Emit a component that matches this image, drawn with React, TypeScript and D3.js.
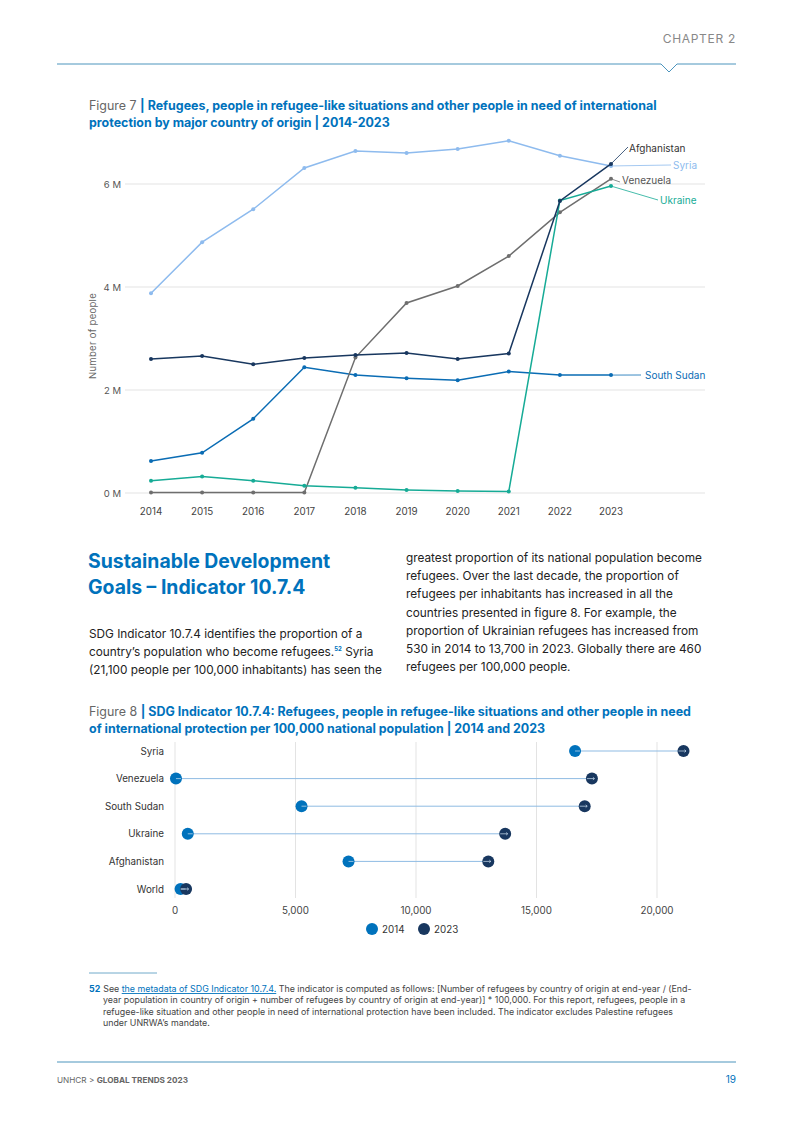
import React from 'react';
import * as d3 from 'd3';

// Figure 7 data (millions of people)
const years = [2014, 2015, 2016, 2017, 2018, 2019, 2020, 2021, 2022, 2023];
const syria = [3.88, 4.87, 5.51, 6.31, 6.64, 6.6, 6.68, 6.84, 6.55, 6.35];
const afghanistan = [2.6, 2.66, 2.5, 2.62, 2.68, 2.72, 2.6, 2.71, 5.67, 6.39];
const southSudan = [0.62, 0.78, 1.44, 2.44, 2.29, 2.23, 2.19, 2.36, 2.29, 2.29];
const venezuela = [0.01, 0.01, 0.01, 0.01, 2.63, 3.69, 4.02, 4.6, 5.45, 6.1];
const ukraine = [0.24, 0.32, 0.24, 0.14, 0.1, 0.06, 0.04, 0.03, 5.68, 5.96];
const yTicks = [0, 2, 4, 6];

// Figure 8 data (per 100,000 national population)
const countries = ['Syria', 'Venezuela', 'South Sudan', 'Ukraine', 'Afghanistan', 'World'];
const values2014 = [16600, 40, 5250, 530, 7200, 230];
const values2023 = [21100, 17300, 17000, 13700, 13000, 460];
const xTicks = [0, 5000, 10000, 15000, 20000];

const C_SYRIA = '#8ebbee';
const C_AFG = '#18375f';
const C_SSD = '#0a6cb4';
const C_VEN = '#6e6e6e';
const C_UKR = '#16ab96';
const BLUE = '#0072bc';
const FONT = 'Inter, "Open Sans", sans-serif';

const series = [
  { name: 'Syria', values: syria, color: C_SYRIA },
  { name: 'South Sudan', values: southSudan, color: C_SSD },
  { name: 'Venezuela', values: venezuela, color: C_VEN },
  { name: 'Ukraine', values: ukraine, color: C_UKR },
  { name: 'Afghanistan', values: afghanistan, color: C_AFG },
];

function LineChart() {
  const x = d3.scaleLinear().domain([2014, 2023]).range([151, 611]);
  const y = d3.scaleLinear().domain([0, 6]).range([493, 184]);
  const line = d3.line<number>().x((_, i) => x(years[i])).y(d => y(d));
  const last = (v: number[]) => [x(2023), y(v[v.length - 1])];

  const labels = [
    { name: 'Afghanistan', values: afghanistan, color: C_AFG, text: '#333', to: [628, 147], tx: 629, ty: 152 },
    { name: 'Syria', values: syria, color: C_SYRIA, text: C_SYRIA, to: [671, 165], tx: 673, ty: 169 },
    { name: 'Venezuela', values: venezuela, color: C_VEN, text: '#555', to: [620, 182], tx: 622, ty: 184 },
    { name: 'Ukraine', values: ukraine, color: C_UKR, text: C_UKR, to: [658, 200], tx: 660, ty: 204 },
    { name: 'South Sudan', values: southSudan, color: C_SSD, text: C_SSD, to: [641, 375], tx: 645, ty: 379 },
  ];

  return (
    <g fontFamily={FONT}>
      {yTicks.map(t => (
        <g key={t}>
          <line x1={125} x2={705} y1={y(t)} y2={y(t)} stroke="#e3e3e3" strokeWidth={1} />
          <text x={121} y={y(t) + 3.5} textAnchor="end" fontSize={9.5} fill="#555">{t} M</text>
        </g>
      ))}
      {years.map(yr => (
        <text key={yr} x={x(yr)} y={515} textAnchor="middle" fontSize={9.8} fill="#444">{yr}</text>
      ))}
      <text transform="translate(96,336) rotate(-90)" textAnchor="middle" fontSize={9.5} fill="#666" letterSpacing={0.3}>
        Number of people
      </text>
      {labels.map(l => {
        const [px, py] = last(l.values);
        return (
          <g key={l.name}>
            <line x1={px} y1={py} x2={l.to[0]} y2={l.to[1]} stroke={l.color} strokeWidth={0.8} />
            <text x={l.tx} y={l.ty} fontSize={10} fill={l.text}>{l.name}</text>
          </g>
        );
      })}
      {series.map(s => (
        <g key={s.name}>
          <path d={line(s.values) || ''} fill="none" stroke={s.color} strokeWidth={1.5} />
          {s.values.map((v, i) => (
            <circle key={i} cx={x(years[i])} cy={y(v)} r={2} fill={s.color} />
          ))}
        </g>
      ))}
    </g>
  );
}

function Dumbbell() {
  const x = d3.scaleLinear().domain([0, 20000]).range([175, 657]);
  const y = d3.scalePoint<string>().domain(countries).range([751, 889]);
  return (
    <g fontFamily={FONT}>
      {xTicks.map(t => (
        <g key={t}>
          <line x1={x(t)} x2={x(t)} y1={742} y2={898} stroke="#e3e3e3" strokeWidth={1} />
          <text x={x(t)} y={914} textAnchor="middle" fontSize={9.8} fill="#444">{d3.format(',')(t)}</text>
        </g>
      ))}
      {countries.map((c, i) => {
        const cy = y(c) as number;
        const x0 = x(values2014[i]);
        const x1 = x(values2023[i]);
        return (
          <g key={c}>
            <text x={164} y={cy + 3.5} textAnchor="end" fontSize={9.8} fill="#333">{c}</text>
            <line x1={x0} x2={x1} y1={cy} y2={cy} stroke="#8fbbe3" strokeWidth={1} />
            <circle cx={x0} cy={cy} r={6} fill={BLUE} />
            <circle cx={x1} cy={cy} r={6} fill={C_AFG} />
            <line x1={x0} x2={x0 + 5} y1={cy} y2={cy} stroke="#cfe2f3" strokeWidth={0.7} />
            <path d={`M${x1 - 5},${cy}H${x1 + 2.5}M${x1 + 1},${cy - 1.3}L${x1 + 2.5},${cy}L${x1 + 1},${cy + 1.3}`} stroke="#cfe2f3" strokeWidth={0.7} fill="none" />
          </g>
        );
      })}
      <circle cx={372} cy={929} r={6} fill={BLUE} />
      <text x={382} y={933} fontSize={9.8} fill="#333">2014</text>
      <circle cx={424} cy={929} r={6} fill={C_AFG} />
      <text x={434} y={933} fontSize={9.8} fill="#333">2023</text>
    </g>
  );
}

const leftPara = [
  'SDG Indicator 10.7.4 identifies the proportion of a',
  'country\u2019s population who become refugees.',
  '(21,100 people per 100,000 inhabitants) has seen the',
];
const rightPara = [
  'greatest proportion of its national population become',
  'refugees. Over the last decade, the proportion of',
  'refugees per inhabitants has increased in all the',
  'countries presented in figure 8. For example, the',
  'proportion of Ukrainian refugees has increased from',
  '530 in 2014 to 13,700 in 2023. Globally there are 460',
  'refugees per 100,000 people.',
];
const footLines = [
  'year population in country of origin + number of refugees by country of origin at end-year)] * 100,000. For this report, refugees, people in a',
  'refugee-like situation and other people in need of international protection have been included. The indicator excludes Palestine refugees',
  'under UNRWA\u2019s mandate.',
];

export default function App() {
  return (
    <svg width={793} height={1122} style={{ position: 'absolute', left: 0, top: 0, background: '#fff' }} fontFamily={FONT}>
      {/* page header */}
      <text x={736} y={43} textAnchor="end" fontSize={12} fill="#888" letterSpacing={0.7}>CHAPTER 2</text>
      <path d="M57,64H661L669,72L677,64H736" fill="none" stroke="#4d95bd" strokeWidth={1} />

      {/* Figure 7 title */}
      <text x={89} y={110} fontSize={12.45} fill={BLUE} fontWeight={700}>
        <tspan fill="#666" fontWeight={400}>Figure 7 </tspan>| Refugees, people in refugee-like situations and other people in need of international
      </text>
      <text x={89} y={127} fontSize={12.45} fill={BLUE} fontWeight={700}>protection by major country of origin | 2014-2023</text>
      <LineChart />

      {/* section text */}
      <text x={88} y={568} fontSize={19.4} fontWeight={700} fill={BLUE}>Sustainable Development</text>
      <text x={88} y={594} fontSize={19.4} fontWeight={700} fill={BLUE}>Goals – Indicator 10.7.4</text>
      {leftPara.map((l, i) => (
        <text key={i} x={89} y={638 + i * 18} fontSize={11.8} fill="#222">
          {l}
          {i === 1 && <tspan fontSize={6} dy={-5} fill={BLUE} fontWeight={700}>52</tspan>}
          {i === 1 && <tspan dy={5}> Syria</tspan>}
        </text>
      ))}
      {rightPara.map((l, i) => (
        <text key={i} x={406} y={562 + i * 18.2} fontSize={11.8} fill="#222">{l}</text>
      ))}

      {/* Figure 8 title */}
      <text x={89} y={716} fontSize={12.45} fill={BLUE} fontWeight={700}>
        <tspan fill="#666" fontWeight={400}>Figure 8 </tspan>| SDG Indicator 10.7.4: Refugees, people in refugee-like situations and other people in need
      </text>
      <text x={89} y={733} fontSize={12.45} fill={BLUE} fontWeight={700}>of international protection per 100,000 national population | 2014 and 2023</text>
      <Dumbbell />

      {/* footnote */}
      <line x1={89} x2={157} y1={973} y2={973} stroke="#4d95bd" strokeWidth={0.8} />
      <text x={89} y={992} fontSize={8.85} fill="#444">
        <tspan fontWeight={700} fill={BLUE}>52</tspan>
        <tspan dx={3}>See </tspan>
        <tspan fill={BLUE} textDecoration="underline">the metadata of SDG Indicator 10.7.4.</tspan>
        <tspan> The indicator is computed as follows: [Number of refugees by country of origin at end-year / (End-</tspan>
      </text>
      {footLines.map((l, i) => (
        <text key={i} x={103} y={1003.3 + i * 11.3} fontSize={8.85} fill="#444">{l}</text>
      ))}

      {/* footer */}
      <line x1={57} x2={736} y1={1062} y2={1062} stroke="#4d95bd" strokeWidth={1} />
      <text x={57} y={1083} fontSize={8.2} fill="#666">
        UNHCR &gt; <tspan fontWeight={700}>GLOBAL TRENDS 2023</tspan>
      </text>
      <text x={736} y={1083} textAnchor="end" fontSize={10} fill={BLUE}>19</text>
    </svg>
  );
}
